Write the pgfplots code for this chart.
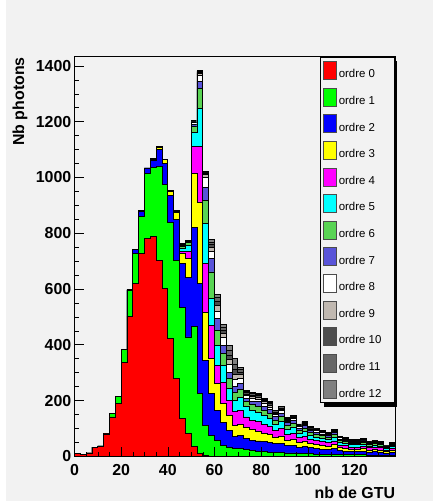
\documentclass[border=0pt]{standalone}
\usepackage{fontspec}
\setmainfont{Liberation Sans}
\usepackage{pgfplots}
\pgfplotsset{compat=1.18}
\usepackage{pgfplotstable}

\definecolor{bg}{RGB}{242,242,242}
\definecolor{k0}{RGB}{255,0,0}
\definecolor{k1}{RGB}{0,255,0}
\definecolor{k2}{RGB}{0,0,255}
\definecolor{k3}{RGB}{255,255,0}
\definecolor{k4}{RGB}{255,0,255}
\definecolor{k5}{RGB}{0,255,255}
\definecolor{k6}{RGB}{89,212,84}
\definecolor{k7}{RGB}{89,84,216}
\definecolor{k8}{RGB}{255,255,255}
\definecolor{k9}{RGB}{192,184,176}
\definecolor{k10}{RGB}{77,77,77}
\definecolor{k11}{RGB}{102,102,102}
\definecolor{k12}{RGB}{128,128,128}

% per-order counts in bins of 2.5 GTU (left edge x)
\pgfplotstableread{
x o0 o1 o2 o3 o4 o5 o6 o7 o8 o9 o10 o11 o12
0 9 0 0 0 0 0 0 0 0 0 0 0 0
2.5 5 0 0 0 0 0 0 0 0 0 0 0 0
5 12 0 0 0 0 0 0 0 0 0 0 0 0
7.5 31 2 0 0 0 0 0 0 0 0 0 0 0
10 35 2 0 0 0 0 0 0 0 0 0 0 0
12.5 80 3 0 0 0 0 0 0 0 0 0 0 0
15 141 14 0 0 0 0 0 0 0 0 0 0 0
17.5 189 24 0 0 0 0 0 0 0 0 0 0 0
20 335 48 0 0 0 0 0 0 0 0 0 0 0
22.5 503 92 2 0 0 0 0 0 0 0 0 0 0
25 621 108 14 0 0 0 0 0 0 0 0 0 0
27.5 726 134 19 1 0 0 0 0 0 0 0 0 0
30 782 231 18 2 1 0 0 0 0 0 0 0 0
32.5 788 249 24 5 1 0 0 0 0 0 0 0 0
35 702 337 62 7 2 1 1 0 0 0 0 0 0
37.5 603 372 76 12 2 1 0 0 0 0 0 0 0
40 422 418 95 15 2 1 0 0 0 0 0 0 0
42.5 279 423 146 28 3 2 1 0 0 0 0 0 0
45 136 399 155 39 7 8 8 4 2 2 1 1 0
47.5 82 346 215 65 28 20 10 4 2 1 1 0 0
50 35 431 356 191 98 51 21 7 6 3 2 2 1
52.5 9 218 392 293 199 135 72 27 21 6 4 4 3
55 2 109 233 173 173 146 82 47 34 13 4 3 3
57.5 0 75 150 125 120 95 96 47 25 17 10 8 8
60 0 57 108 95 66 72 54 41 27 20 15 13 12
62.5 0 39 84 66 77 60 42 30 27 15 12 11 10
65 0 33 60 54 54 42 35 24 28 18 15 17 18
67.5 0 27 45 40 48 40 28 22 26 16 18 20 20
70 0 27 48 40 50 45 30 22 18 12 10 9 9
72.5 0 24 39 42 36 36 18 13 9 6 5 4 4
75 0 20 38 37 35 35 20 13 10 7 5 5 5
77.5 0 18 37 33 37 33 22 15 10 7 5 5 4
80 0 16 36 30 33 30 20 15 10 7 4 4 4
82.5 0 15 35 28 30 28 19 13 8 7 5 4 4
85 0 13 32 23 24 23 15 12 8 5 4 4 3
87.5 0 14 32 26 28 25 17 13 9 5 4 4 3
90 0 12 26 19 21 19 13 10 6 4 3 3 2
92.5 0 12 28 20 23 20 14 10 7 4 3 3 2
95 0 10 23 16 17 16 11 8 5 3 3 2 2
97.5 0 11 24 17 19 17 12 9 6 4 3 2 2
100 0 9 21 15 16 14 10 8 5 3 2 2 2
102.5 0 8 20 14 14 13 10 7 5 3 2 2 1
105 0 8 18 13 13 12 9 7 4 3 2 2 1
107.5 0 7 17 12 12 12 8 7 4 3 2 1 1
110 0 8 19 14 14 13 9 7 5 3 2 2 1
112.5 0 6 14 10 10 10 7 5 4 2 2 1 1
115 0 5 14 9 10 9 6 5 4 2 1 1 1
117.5 0 5 12 8 8 8 6 4 3 2 1 1 1
120 0 5 11 9 8 8 6 4 3 2 1 1 1
122.5 0 5 13 9 9 8 6 5 3 2 1 1 1
125 0 4 11 7 8 7 5 4 3 2 1 0 1
127.5 0 4 12 8 8 8 5 4 3 2 1 1 1
130 0 4 11 7 8 7 5 4 3 2 1 0 1
132.5 0 3 8 6 5 5 4 3 2 1 1 0 1
135 0 4 10 7 8 7 4 4 3 2 1 0 1
137.5 0 4 10 7 8 7 4 4 3 2 1 0 1
}\data

% stacked (cumulative) levels, as THStack draws them
\pgfplotstablecreatecol[create col/expr={\thisrow{o0}}]{c0}{\data}
\pgfplotstablecreatecol[create col/expr={\thisrow{c0}+\thisrow{o1}}]{c1}{\data}
\pgfplotstablecreatecol[create col/expr={\thisrow{c1}+\thisrow{o2}}]{c2}{\data}
\pgfplotstablecreatecol[create col/expr={\thisrow{c2}+\thisrow{o3}}]{c3}{\data}
\pgfplotstablecreatecol[create col/expr={\thisrow{c3}+\thisrow{o4}}]{c4}{\data}
\pgfplotstablecreatecol[create col/expr={\thisrow{c4}+\thisrow{o5}}]{c5}{\data}
\pgfplotstablecreatecol[create col/expr={\thisrow{c5}+\thisrow{o6}}]{c6}{\data}
\pgfplotstablecreatecol[create col/expr={\thisrow{c6}+\thisrow{o7}}]{c7}{\data}
\pgfplotstablecreatecol[create col/expr={\thisrow{c7}+\thisrow{o8}}]{c8}{\data}
\pgfplotstablecreatecol[create col/expr={\thisrow{c8}+\thisrow{o9}}]{c9}{\data}
\pgfplotstablecreatecol[create col/expr={\thisrow{c9}+\thisrow{o10}}]{c10}{\data}
\pgfplotstablecreatecol[create col/expr={\thisrow{c10}+\thisrow{o11}}]{c11}{\data}
\pgfplotstablecreatecol[create col/expr={\thisrow{c11}+\thisrow{o12}}]{c12}{\data}

\newcommand{\lt}[1]{\makebox[56bp][l]{\hspace{2.5bp}#1}}

\begin{document}
\begin{tikzpicture}
\fill[white] (-74.5bp,-44.7bp) rectangle (358.5bp,456.3bp);
\fill[bg] (-68.5bp,-44.7bp) rectangle (358.5bp,456.3bp);
\useasboundingbox (-74.5bp,-44.7bp) rectangle (358.5bp,456.3bp);
\begin{axis}[
  scale only axis, width=320.8bp, height=399.3bp,
  at={(0,0)}, anchor=south west,
  clip=false,
  xmin=0, xmax=137.5, ymin=0, ymax=1432,
  xtick={0,20,...,120}, ytick={0,200,...,1400},
  minor xtick={5,10,...,135}, minor ytick={50,100,...,1400},
  tick align=inside, xtick pos=bottom, ytick pos=left,
  major tick length=9bp, minor tick length=4.5bp,
  tick style={black, line width=0.6bp},
  axis line style={line width=1bp},
  axis on top,
  axis background/.style={fill=bg},
  /pgf/number format/assume math mode=true,
  /pgf/number format/1000 sep={},
  tick label style={font=\fontsize{16}{16}\selectfont\bfseries},
  yticklabel style={inner sep=0pt, xshift=-3bp},
  xticklabel style={inner sep=0pt, yshift=-8bp},
  xlabel={nb de GTU}, ylabel={Nb photons},
  label style={font=\fontsize{16}{16}\selectfont\bfseries},
  xlabel style={at={(axis description cs:1,0)}, anchor=north east, inner sep=0pt, yshift=-30bp},
  ylabel style={at={(axis description cs:-0.17,1)}, anchor=east, inner sep=0pt},
  reverse legend,
  legend cell align=left,
  legend style={at={(0.7655,1)}, anchor=north west, fill=bg, draw=black, line width=0.8bp,
    inner xsep=2.3bp, inner ysep=3.8bp, row sep=8.1bp,
    font=\fontsize{11.5}{12}\selectfont, nodes={inner sep=0pt}},
  legend image code/.code={\draw[#1,draw=black!70,line width=0.5bp] (0bp,-5bp) rectangle (13bp,13bp);},
  hist/.style={const plot, draw=black, line width=0.9bp, fill=#1},
]
% legend shadow
\fill[black] (rel axis cs:0.7778,0.1242) rectangle (rel axis cs:1.0062,0.9907);
\addplot[hist=k12] table[x=x,y=c12]{\data} \closedcycle; \addlegendentry{\lt{ordre 12}}
\addplot[hist=k11] table[x=x,y=c11]{\data} \closedcycle; \addlegendentry{\lt{ordre 11}}
\addplot[hist=k10] table[x=x,y=c10]{\data} \closedcycle; \addlegendentry{\lt{ordre 10}}
\addplot[hist=k9] table[x=x,y=c9]{\data} \closedcycle; \addlegendentry{\lt{ordre 9}}
\addplot[hist=k8] table[x=x,y=c8]{\data} \closedcycle; \addlegendentry{\lt{ordre 8}}
\addplot[hist=k7] table[x=x,y=c7]{\data} \closedcycle; \addlegendentry{\lt{ordre 7}}
\addplot[hist=k6] table[x=x,y=c6]{\data} \closedcycle; \addlegendentry{\lt{ordre 6}}
\addplot[hist=k5] table[x=x,y=c5]{\data} \closedcycle; \addlegendentry{\lt{ordre 5}}
\addplot[hist=k4] table[x=x,y=c4]{\data} \closedcycle; \addlegendentry{\lt{ordre 4}}
\addplot[hist=k3] table[x=x,y=c3]{\data} \closedcycle; \addlegendentry{\lt{ordre 3}}
\addplot[hist=k2] table[x=x,y=c2]{\data} \closedcycle; \addlegendentry{\lt{ordre 2}}
\addplot[hist=k1] table[x=x,y=c1]{\data} \closedcycle; \addlegendentry{\lt{ordre 1}}
\addplot[hist=k0] table[x=x,y=c0]{\data} \closedcycle; \addlegendentry{\lt{ordre 0}}
\end{axis}
\end{tikzpicture}
\end{document}
